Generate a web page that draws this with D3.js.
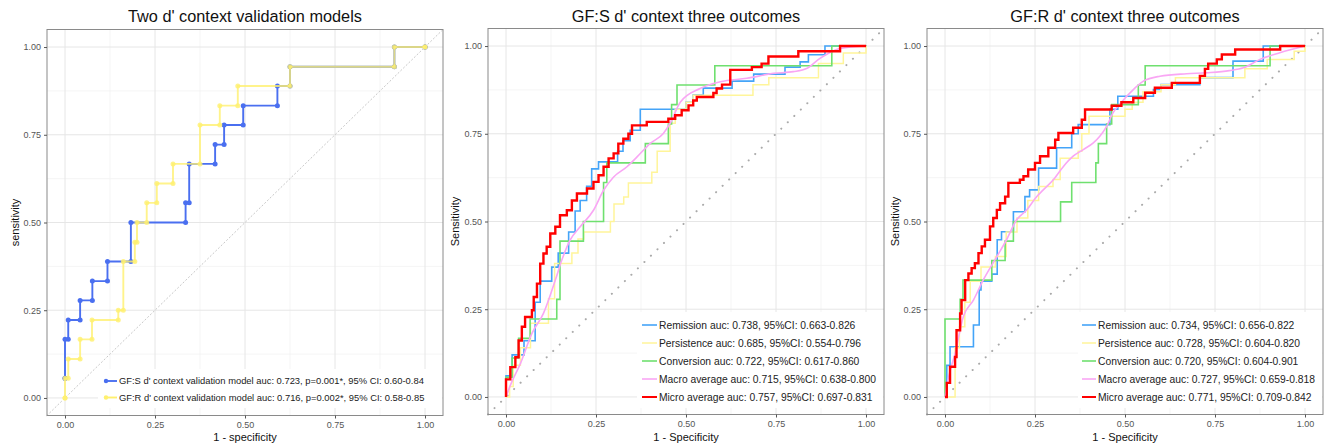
<!DOCTYPE html>
<html>
<head>
<meta charset="utf-8">
<script src="https://cdn.jsdelivr.net/npm/d3@7"></script>
<style>
  body { margin: 0; background: #fff; }
  svg { display: block; font-family: "Liberation Sans", Arial, sans-serif; }
</style>
</head>
<body>
<svg id="chart" width="1328" height="445"></svg>
<script>
// axis ticks shared by all three panels
var tickValues = [0, 0.25, 0.5, 0.75, 1];
var tickLabels = ["0.00", "0.25", "0.50", "0.75", "1.00"];
var minorTicks = [0.125, 0.375, 0.625, 0.875];

var titles = ["Two d' context validation models", "GF:S d' context three outcomes", "GF:R d' context three outcomes"];

// panel 1: [1 - specificity, sensitivity]
var gfsValidation = [[0,0.056],[0,0.167],[0.009,0.222],[0.042,0.278],[0.076,0.333],[0.118,0.389],[0.183,0.5],
  [0.335,0.556],[0.345,0.667],[0.417,0.722],[0.442,0.778],[0.495,0.833],[0.59,0.889],[0.625,0.944],[0.915,1],[1,1]];
var gfrValidation = [[0,0],[0,0.056],[0.009,0.111],[0.042,0.167],[0.075,0.222],[0.148,0.25],[0.162,0.389],[0.194,0.444],
  [0.2,0.5],[0.227,0.556],[0.255,0.611],[0.3,0.667],[0.375,0.778],[0.43,0.833],[0.48,0.889],[0.625,0.944],[0.915,1],[1,1]];
var validationLabels = [
  "GF:S d' context validation model auc: 0.723, p=0.001*, 95% CI: 0.60-0.84",
  "GF:R d' context validation model auc: 0.716, p=0.002*, 95% CI: 0.58-0.85"
];

// panel 2: GF:S outcomes
var gfsRemission = [[0,0],[0,0.06],[0.017,0.12],[0.05,0.16],[0.081,0.27],[0.095,0.33],[0.127,0.37],[0.145,0.41],[0.174,0.47],
  [0.192,0.53],[0.206,0.56],[0.224,0.6],[0.238,0.65],[0.257,0.67],[0.31,0.7],[0.325,0.73],[0.345,0.76],[0.373,0.82],
  [0.5,0.84],[0.52,0.86],[0.548,0.88],[0.628,0.9],[0.688,0.92],[0.775,0.94],[0.817,0.955],[0.84,0.975],[0.886,1],[1,1]];
var gfsPersistence = [[0,0],[0.01,0.03],[0.02,0.09],[0.04,0.14],[0.068,0.21],[0.118,0.28],[0.135,0.38],[0.183,0.41],[0.2,0.45],
  [0.216,0.47],[0.29,0.5],[0.3,0.55],[0.327,0.57],[0.34,0.61],[0.405,0.64],[0.42,0.7],[0.456,0.78],[0.47,0.82],[0.5,0.84],
  [0.52,0.86],[0.686,0.89],[0.73,0.91],[0.868,0.95],[0.937,0.98],[1,1]];
var gfsConversion = [[0,0],[0,0.056],[0.017,0.111],[0.035,0.167],[0.067,0.222],[0.141,0.278],[0.15,0.444],[0.215,0.5],
  [0.271,0.611],[0.28,0.667],[0.387,0.722],[0.451,0.778],[0.46,0.833],[0.475,0.889],[0.58,0.944],[0.905,1],[1,1]];
var gfsMacro = [[0,0],[0.012,0.033],[0.04,0.095],[0.072,0.181],[0.104,0.238],[0.137,0.333],[0.155,0.39],[0.178,0.447],
  [0.206,0.485],[0.243,0.532],[0.271,0.589],[0.299,0.627],[0.336,0.656],[0.364,0.684],[0.4,0.722],[0.437,0.751],
  [0.456,0.78],[0.484,0.84],[0.539,0.879],[0.595,0.898],[0.669,0.908],[0.743,0.922],[0.798,0.927],[0.835,0.936],
  [0.872,0.965],[0.895,0.979],[0.928,0.993],[1,1]];
var gfsMicro = [[0,0],[0,0.05],[0.012,0.085],[0.026,0.113],[0.035,0.161],[0.044,0.2],[0.053,0.228],[0.072,0.247],[0.077,0.285],
  [0.086,0.323],[0.095,0.38],[0.104,0.409],[0.113,0.428],[0.123,0.466],[0.137,0.485],[0.15,0.518],[0.169,0.532],[0.183,0.56],
  [0.197,0.58],[0.225,0.594],[0.243,0.613],[0.257,0.632],[0.271,0.656],[0.285,0.68],[0.299,0.694],[0.312,0.722],[0.326,0.736],
  [0.34,0.75],[0.35,0.774],[0.391,0.784],[0.451,0.793],[0.47,0.803],[0.488,0.817],[0.507,0.831],[0.52,0.845],[0.53,0.855],
  [0.576,0.866],[0.585,0.879],[0.6,0.89],[0.623,0.932],[0.683,0.94],[0.71,0.95],[0.729,0.97],[0.812,0.985],[0.928,1],[1,1]];
var gfsOutcomeLabels = [
  "Remission auc: 0.738, 95%CI: 0.663-0.826",
  "Persistence auc: 0.685, 95%CI: 0.554-0.796",
  "Conversion auc: 0.722, 95%CI: 0.617-0.860",
  "Macro average auc: 0.715, 95%CI: 0.638-0.800",
  "Micro average auc: 0.757, 95%CI: 0.697-0.831"
];

// panel 3: GF:R outcomes
var gfrRemission = [[0,0],[0.005,0.09],[0.014,0.143],[0.079,0.205],[0.095,0.305],[0.1,0.33],[0.13,0.35],[0.145,0.448],
  [0.157,0.471],[0.19,0.528],[0.222,0.571],[0.235,0.59],[0.26,0.652],[0.31,0.71],[0.352,0.75],[0.37,0.776],[0.458,0.82],
  [0.48,0.857],[0.579,0.876],[0.6,0.89],[0.708,0.91],[0.8,0.957],[0.884,1],[1,1]];
var gfrPersistence = [[0,0],[0.028,0.14],[0.04,0.2],[0.055,0.27],[0.07,0.33],[0.1,0.37],[0.14,0.4],[0.17,0.47],[0.2,0.51],
  [0.23,0.56],[0.26,0.6],[0.3,0.62],[0.32,0.68],[0.37,0.7],[0.38,0.75],[0.4,0.8],[0.5,0.82],[0.52,0.84],[0.55,0.87],
  [0.6,0.89],[0.64,0.91],[0.833,0.935],[0.895,0.962],[0.97,0.985],[1,1]];
var gfrConversion = [[0,0],[0,0.222],[0.042,0.278],[0.05,0.333],[0.13,0.389],[0.167,0.444],[0.19,0.5],[0.321,0.556],
  [0.352,0.611],[0.419,0.667],[0.426,0.722],[0.449,0.778],[0.463,0.833],[0.537,0.889],[0.556,0.944],[0.903,1],[1,1]];
var gfrMacro = [[0,0],[0.009,0.052],[0.028,0.124],[0.051,0.229],[0.079,0.276],[0.106,0.333],[0.144,0.4],[0.171,0.448],
  [0.199,0.505],[0.227,0.533],[0.255,0.571],[0.273,0.59],[0.301,0.619],[0.329,0.657],[0.356,0.686],[0.384,0.705],
  [0.412,0.724],[0.43,0.743],[0.449,0.771],[0.467,0.81],[0.486,0.835],[0.523,0.876],[0.551,0.9],[0.597,0.914],
  [0.671,0.921],[0.727,0.924],[0.79,0.93],[0.829,0.938],[0.875,0.962],[0.93,0.981],[1,1]];
var gfrMicro = [[0,0],[0.005,0.04],[0.014,0.086],[0.028,0.114],[0.032,0.19],[0.042,0.238],[0.046,0.276],[0.056,0.333],
  [0.065,0.352],[0.074,0.367],[0.083,0.381],[0.093,0.41],[0.102,0.429],[0.111,0.448],[0.125,0.486],[0.134,0.51],
  [0.144,0.533],[0.153,0.552],[0.167,0.571],[0.176,0.61],[0.208,0.619],[0.218,0.629],[0.231,0.648],[0.25,0.667],
  [0.264,0.686],[0.287,0.71],[0.306,0.733],[0.315,0.752],[0.356,0.767],[0.38,0.79],[0.389,0.819],[0.463,0.83],
  [0.49,0.84],[0.523,0.852],[0.556,0.867],[0.583,0.881],[0.63,0.895],[0.708,0.915],[0.722,0.935],[0.731,0.95],
  [0.755,0.962],[0.769,0.976],[0.806,0.99],[0.931,1],[1,1]];
var gfrOutcomeLabels = [
  "Remission auc: 0.734, 95%CI: 0.656-0.822",
  "Persistence auc: 0.728, 95%CI: 0.604-0.820",
  "Conversion auc: 0.720, 95%CI: 0.604-0.901",
  "Macro average auc: 0.727, 95%CI: 0.659-0.818",
  "Micro average auc: 0.771, 95%CI: 0.709-0.842"
];

var outcomeColors = ["#44a4f8", "#fff59a", "#6fe06f", "#f9a6f4", "#ff0000"];
var outcomeWidths = [1.6, 1.5, 1.6, 1.6, 2.4];

var svg = d3.select("#chart");

var panels = [
  {
    left: 47, right: 443, top: 29.5, bottom: 415.5, title: titles[0],
    xLabel: "1 - specificity", yLabel: "sensitivity", yLabelX: 15,
    series: [
      {data: gfsValidation, color: "#4a6ff0", width: 1.9, step: true, points: true, opacity: 1},
      {data: gfrValidation, color: "#fff06e", width: 1.9, step: true, points: true, opacity: 0.8}
    ],
    labels: validationLabels,
    diag: {color: "#c8c8c8", width: 1, dash: "1.2,2.6"},
    legend: {boxLeft: 98, boxTop: 369, boxBottom: 408, keyLeft: 104, keyRight: 117, textX: 119, firstRow: 381, rowStep: 16.5, font: 9.4}
  },
  {
    left: 488, right: 884, top: 28.5, bottom: 414.5, title: titles[1],
    xLabel: "1 - Specificity", yLabel: "Sensitivity", yLabelX: 455,
    series: [gfsRemission, gfsPersistence, gfsConversion, gfsMacro, gfsMicro].map(function(d, i) {
      return {data: d, color: outcomeColors[i], width: outcomeWidths[i], step: i !== 3, points: false, opacity: 1};
    }),
    labels: gfsOutcomeLabels,
    diag: {color: "#aaaaaa", width: 2, dash: "0.1,9"},
    legend: {boxLeft: 637, boxTop: 312, boxBottom: 408, keyLeft: 642, keyRight: 657, textX: 659, firstRow: 325, rowStep: 18, font: 10.3}
  },
  {
    left: 927, right: 1323, top: 28.5, bottom: 414.5, title: titles[2],
    xLabel: "1 - Specificity", yLabel: "Sensitivity", yLabelX: 895,
    series: [gfrRemission, gfrPersistence, gfrConversion, gfrMacro, gfrMicro].map(function(d, i) {
      return {data: d, color: outcomeColors[i], width: outcomeWidths[i], step: i !== 3, points: false, opacity: 1};
    }),
    labels: gfrOutcomeLabels,
    diag: {color: "#aaaaaa", width: 2, dash: "0.1,9"},
    legend: {boxLeft: 1078, boxTop: 312, boxBottom: 408, keyLeft: 1082, keyRight: 1096, textX: 1098, firstRow: 325, rowStep: 18, font: 10.3}
  }
];

function drawPanel(p) {
  var x = d3.scaleLinear().domain([-0.05, 1.05]).range([p.left, p.right]);
  var y = d3.scaleLinear().domain([-0.05, 1.05]).range([p.bottom, p.top]);
  var g = svg.append("g");

  g.append("rect")
    .attr("x", p.left).attr("y", p.top)
    .attr("width", p.right - p.left).attr("height", p.bottom - p.top)
    .attr("fill", "#fff");

  // grid lines
  var grid = g.append("g");
  grid.selectAll(".vminor").data(minorTicks).enter().append("line")
    .attr("x1", x).attr("x2", x).attr("y1", p.top).attr("y2", p.bottom)
    .attr("stroke", "#f3f3f3").attr("stroke-width", 0.8);
  grid.selectAll(".hminor").data(minorTicks).enter().append("line")
    .attr("y1", y).attr("y2", y).attr("x1", p.left).attr("x2", p.right)
    .attr("stroke", "#f3f3f3").attr("stroke-width", 0.8);
  grid.selectAll(".vmajor").data(tickValues).enter().append("line")
    .attr("x1", x).attr("x2", x).attr("y1", p.top).attr("y2", p.bottom)
    .attr("stroke", "#e6e6e6").attr("stroke-width", 1);
  grid.selectAll(".hmajor").data(tickValues).enter().append("line")
    .attr("y1", y).attr("y2", y).attr("x1", p.left).attr("x2", p.right)
    .attr("stroke", "#e6e6e6").attr("stroke-width", 1);

  // legend background hides grid underneath
  var lg = p.legend;
  g.append("rect")
    .attr("x", lg.boxLeft).attr("y", lg.boxTop)
    .attr("width", p.right - 1 - lg.boxLeft).attr("height", lg.boxBottom - lg.boxTop)
    .attr("fill", "#fff");

  // chance diagonal
  g.append("line")
    .attr("x1", x(-0.05)).attr("y1", y(-0.05)).attr("x2", x(1.05)).attr("y2", y(1.05))
    .attr("stroke", p.diag.color).attr("stroke-width", p.diag.width)
    .attr("stroke-dasharray", p.diag.dash).attr("stroke-linecap", "round");

  var stepLine = d3.line().x(function(d) { return x(d[0]); }).y(function(d) { return y(d[1]); }).curve(d3.curveStepAfter);
  var smoothLine = d3.line().x(function(d) { return x(d[0]); }).y(function(d) { return y(d[1]); }).curve(d3.curveMonotoneX);

  p.series.forEach(function(s) {
    g.append("path")
      .attr("d", s.step ? stepLine(s.data) : smoothLine(s.data))
      .attr("fill", "none")
      .attr("stroke", s.color)
      .attr("stroke-width", s.width)
      .attr("stroke-opacity", s.opacity);
    if (s.points) {
      // markers at each corner of the step path
      var corners = [];
      s.data.forEach(function(d, i) {
        corners.push(d);
        if (i < s.data.length - 1) corners.push([s.data[i + 1][0], d[1]]);
      });
      g.selectAll(null).data(corners).enter().append("circle")
        .attr("cx", function(d) { return x(d[0]); })
        .attr("cy", function(d) { return y(d[1]); })
        .attr("r", 2.5)
        .attr("fill", s.color)
        .attr("fill-opacity", s.opacity);
    }
  });

  // legend
  p.labels.forEach(function(label, i) {
    var s = p.series[i];
    var ry = lg.firstRow + i * lg.rowStep;
    g.append("line")
      .attr("x1", lg.keyLeft).attr("x2", lg.keyRight).attr("y1", ry).attr("y2", ry)
      .attr("stroke", s.color).attr("stroke-width", Math.min(s.width, 2));
    if (s.points) {
      g.append("circle").attr("cx", lg.keyLeft + 2).attr("cy", ry).attr("r", 2.2).attr("fill", s.color);
    }
    g.append("text")
      .attr("x", lg.textX).attr("y", ry).attr("dy", "0.35em")
      .attr("font-size", lg.font).attr("fill", "#222")
      .text(label);
  });

  // panel border
  g.append("rect")
    .attr("x", p.left).attr("y", p.top)
    .attr("width", p.right - p.left).attr("height", p.bottom - p.top)
    .attr("fill", "none").attr("stroke", "#8a8a8a").attr("stroke-width", 1);

  // axes
  var xAxis = g.append("g").attr("transform", "translate(0," + p.bottom + ")")
    .call(d3.axisBottom(x).tickValues(tickValues).tickFormat(function(d, i) { return tickLabels[i]; }).tickSize(3).tickPadding(3));
  var yAxis = g.append("g").attr("transform", "translate(" + p.left + ",0)")
    .call(d3.axisLeft(y).tickValues(tickValues).tickFormat(function(d, i) { return tickLabels[i]; }).tickSize(3).tickPadding(3));
  [xAxis, yAxis].forEach(function(a) {
    a.select(".domain").remove();
    a.selectAll(".tick line").attr("stroke", "#555");
    a.selectAll(".tick text").attr("fill", "#555").attr("font-size", 9).attr("font-family", "Liberation Sans, Arial, sans-serif");
  });

  // titles
  g.append("text")
    .attr("x", (p.left + p.right) / 2).attr("y", 22)
    .attr("text-anchor", "middle").attr("font-size", 16.3).attr("fill", "#111")
    .text(p.title);
  g.append("text")
    .attr("x", (p.left + p.right) / 2).attr("y", 441)
    .attr("text-anchor", "middle").attr("font-size", 11).attr("fill", "#111")
    .text(p.xLabel);
  g.append("text")
    .attr("transform", "translate(" + p.yLabelX + "," + (p.top + p.bottom) / 2 + ") rotate(-90)")
    .attr("dy", "0.35em")
    .attr("text-anchor", "middle").attr("font-size", 11).attr("fill", "#111")
    .text(p.yLabel);
}

panels.forEach(drawPanel);
</script>
</body>
</html>
